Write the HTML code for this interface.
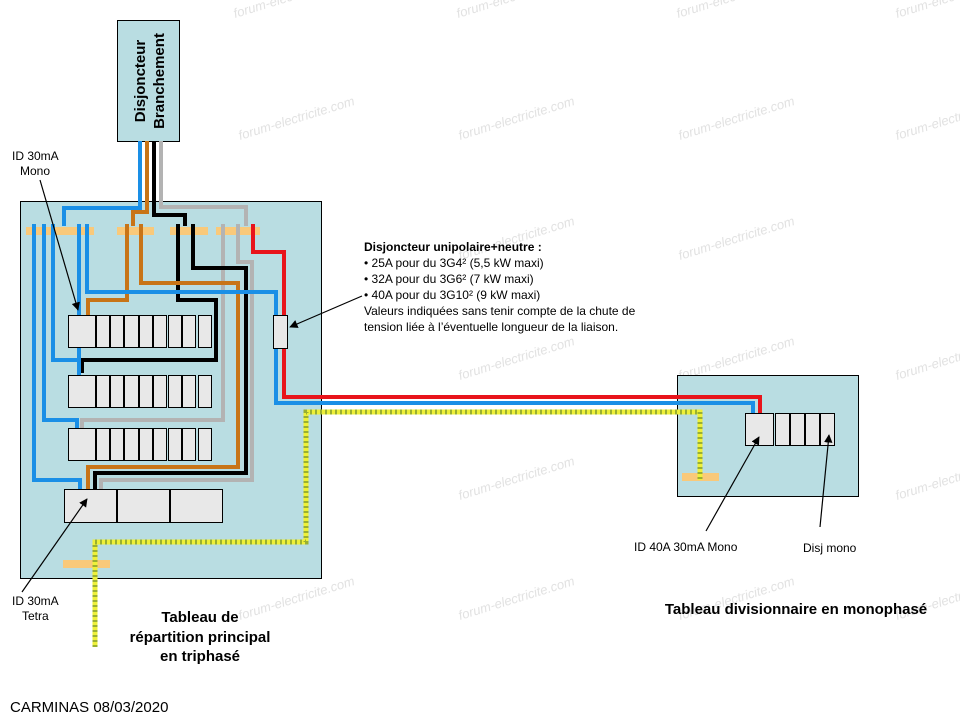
<!DOCTYPE html>
<html><head><meta charset="utf-8"><style>
html,body{margin:0;padding:0;background:#fff;}
svg{display:block;font-family:"Liberation Sans",Arial,sans-serif;}
</style></head><body>
<svg width="960" height="720" viewBox="0 0 960 720" xmlns="http://www.w3.org/2000/svg">
<defs>
<marker id="ar" viewBox="0 0 10 10" refX="9" refY="5" markerWidth="7" markerHeight="7" orient="auto"><path d="M0,0 L10,5 L0,10 z" fill="#000"/></marker>
</defs>
<!-- watermarks -->
<g fill="#e2e2e2" font-size="13" font-style="italic">
<text transform="translate(235,18) rotate(-17)">forum-electricite.com</text>
<text transform="translate(458,18) rotate(-17)">forum-electricite.com</text>
<text transform="translate(678,18) rotate(-17)">forum-electricite.com</text>
<text transform="translate(897,18) rotate(-17)">forum-electricite.com</text>
<text transform="translate(240,140) rotate(-17)">forum-electricite.com</text>
<text transform="translate(460,140) rotate(-17)">forum-electricite.com</text>
<text transform="translate(680,140) rotate(-17)">forum-electricite.com</text>
<text transform="translate(897,140) rotate(-17)">forum-electricite.com</text>
<text transform="translate(460,260) rotate(-17)">forum-electricite.com</text>
<text transform="translate(680,260) rotate(-17)">forum-electricite.com</text>
<text transform="translate(460,380) rotate(-17)">forum-electricite.com</text>
<text transform="translate(680,380) rotate(-17)">forum-electricite.com</text>
<text transform="translate(897,380) rotate(-17)">forum-electricite.com</text>
<text transform="translate(460,500) rotate(-17)">forum-electricite.com</text>
<text transform="translate(897,500) rotate(-17)">forum-electricite.com</text>
<text transform="translate(240,620) rotate(-17)">forum-electricite.com</text>
<text transform="translate(460,620) rotate(-17)">forum-electricite.com</text>
<text transform="translate(680,620) rotate(-17)">forum-electricite.com</text>
<text transform="translate(897,620) rotate(-17)">forum-electricite.com</text>
</g>
<!-- boxes -->
<rect x="117.5" y="20.5" width="62" height="121" fill="#b9dde2" stroke="#000"/>
<text transform="translate(145,81) rotate(-90)" text-anchor="middle" font-size="15" font-weight="bold">Disjoncteur</text>
<text transform="translate(164,81) rotate(-90)" text-anchor="middle" font-size="15" font-weight="bold">Branchement</text>
<rect x="20.5" y="201.5" width="301" height="377" fill="#b9dde2" stroke="#000"/>
<rect x="677.5" y="375.5" width="181" height="121" fill="#b9dde2" stroke="#000"/>

<!-- combs -->
<g fill="#f9c97a">
<rect x="26" y="227" width="68" height="8"/>
<rect x="117" y="227" width="37" height="8"/>
<rect x="170" y="227" width="38" height="8"/>
<rect x="216" y="227" width="44" height="8"/>
<rect x="63" y="560" width="47" height="8"/>
<rect x="682" y="473" width="37" height="8"/>
</g>

<g fill="none" stroke-width="4" stroke-linejoin="miter">
<path d="M161,141 V207 H246 V226" stroke="#b3b3b3"/>
<path d="M223,224 V420 H82 V430" stroke="#b3b3b3"/>
<path d="M238,224 V262 H252 V480 H101 V490" stroke="#b3b3b3"/>
<path d="M154,141 V215 H185 V226" stroke="#000"/>
<path d="M178,224 V300 H216 V360 H82 V373" stroke="#000"/>
<path d="M193,224 V268 H246 V473 H95 V490" stroke="#000"/>
<path d="M147,141 V212 H133 V226" stroke="#c87417"/>
<path d="M127,224 V300 H88 V318" stroke="#c87417"/>
<path d="M141,224 V283 H238 V467 H88 V490" stroke="#c87417"/>
<path d="M140,141 V208 H64 V226" stroke="#1a8fe6"/>
<path d="M34,224 V480 H80 V490" stroke="#1a8fe6"/>
<path d="M44,224 V420 H77 V430" stroke="#1a8fe6"/>
<path d="M53,224 V360 H79 V375" stroke="#1a8fe6"/>
<path d="M79,224 V375" stroke="#1a8fe6"/>
<path d="M87,224 V292 H276 V403 H753 V414" stroke="#1a8fe6"/>
<path d="M253,224 V252 H284 V397 H760 V414" stroke="#e8141b"/>
<path d="M95,647 V542 H306 V412 H700 V480" stroke="#eef03a" stroke-width="5"/>
<path d="M95,647 V542 H306 V412 H700 V480" stroke="#9ab030" stroke-width="5" stroke-dasharray="2,3"/>
</g>
<!-- breakers -->
<g fill="#e8e8e8" stroke="#000" stroke-width="1">
<rect x="68.5" y="315.5" width="27" height="32"/>
<rect x="96.5" y="315.5" width="13" height="32"/><rect x="110.5" y="315.5" width="13" height="32"/><rect x="124.5" y="315.5" width="14" height="32"/><rect x="139.5" y="315.5" width="13" height="32"/><rect x="153.5" y="315.5" width="13" height="32"/><rect x="168.5" y="315.5" width="13" height="32"/><rect x="182.5" y="315.5" width="13" height="32"/><rect x="198.5" y="315.5" width="13" height="32"/>
<rect x="68.5" y="375.5" width="27" height="32"/>
<rect x="96.5" y="375.5" width="13" height="32"/><rect x="110.5" y="375.5" width="13" height="32"/><rect x="124.5" y="375.5" width="14" height="32"/><rect x="139.5" y="375.5" width="13" height="32"/><rect x="153.5" y="375.5" width="13" height="32"/><rect x="168.5" y="375.5" width="13" height="32"/><rect x="182.5" y="375.5" width="13" height="32"/><rect x="198.5" y="375.5" width="13" height="32"/>
<rect x="68.5" y="428.5" width="27" height="32"/>
<rect x="96.5" y="428.5" width="13" height="32"/><rect x="110.5" y="428.5" width="13" height="32"/><rect x="124.5" y="428.5" width="14" height="32"/><rect x="139.5" y="428.5" width="13" height="32"/><rect x="153.5" y="428.5" width="13" height="32"/><rect x="168.5" y="428.5" width="13" height="32"/><rect x="182.5" y="428.5" width="13" height="32"/><rect x="198.5" y="428.5" width="13" height="32"/>
<rect x="64.5" y="489.5" width="52" height="33"/><rect x="117.5" y="489.5" width="52" height="33"/><rect x="170.5" y="489.5" width="52" height="33"/>
<rect x="273.5" y="315.5" width="14" height="33"/>
<rect x="745.5" y="413.5" width="28" height="32"/><rect x="775.5" y="413.5" width="14" height="32"/><rect x="790.5" y="413.5" width="14" height="32"/><rect x="805.5" y="413.5" width="14" height="32"/><rect x="820.5" y="413.5" width="14" height="32"/>
</g>
<!-- arrows -->
<g stroke="#000" stroke-width="1.2" marker-end="url(#ar)">
<line x1="40" y1="180" x2="78" y2="310"/>
<line x1="22" y1="592" x2="87" y2="499"/>
<line x1="362" y1="296" x2="290" y2="327"/>
<line x1="706" y1="531" x2="759" y2="437"/>
<line x1="820" y1="527" x2="829" y2="435"/>
</g>
<!-- texts -->
<g font-size="12" fill="#000">
<text x="12" y="160">ID 30mA</text>
<text x="20" y="175">Mono</text>
<text x="12" y="605">ID 30mA</text>
<text x="22" y="620">Tetra</text>
<text x="364" y="251" font-weight="bold">Disjoncteur  unipolaire+neutre :</text>
<text x="364" y="267">• 25A pour du 3G4² (5,5 kW maxi)</text>
<text x="364" y="283">• 32A pour du 3G6² (7 kW maxi)</text>
<text x="364" y="299">• 40A pour du 3G10² (9 kW maxi)</text>
<text x="364" y="315">Valeurs indiquées sans tenir compte de la chute de</text>
<text x="364" y="331">tension liée à l’éventuelle  longueur de la liaison.</text>
<text x="634" y="551">ID 40A 30mA Mono</text>
<text x="803" y="552">Disj mono</text>
</g>
<g font-size="15" font-weight="bold" text-anchor="middle">
<text x="200" y="622">Tableau de</text>
<text x="200" y="642">répartition principal</text>
<text x="200" y="661">en triphasé</text>
<text x="796" y="614">Tableau divisionnaire en monophasé</text>
</g>
<text x="10" y="712" font-size="15">CARMINAS 08/03/2020</text>
</svg>
</body></html>
